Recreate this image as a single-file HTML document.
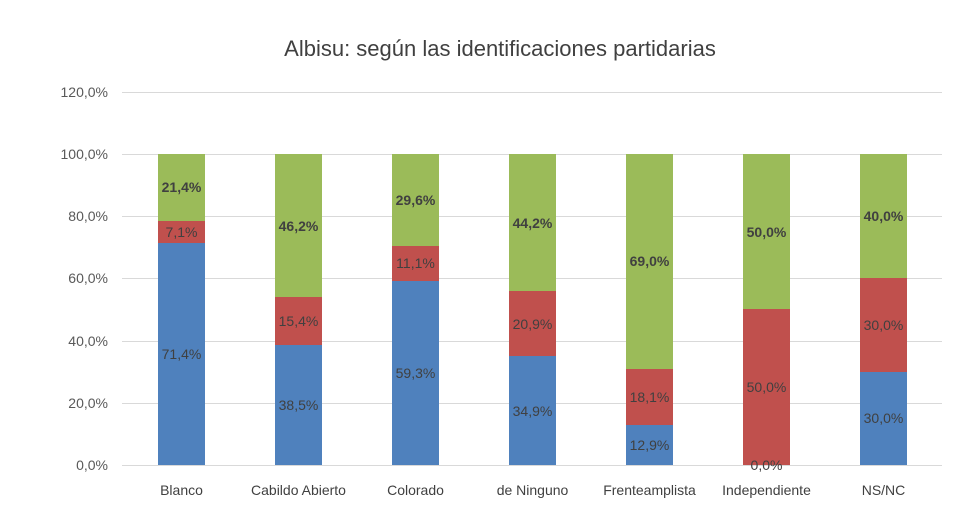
<!DOCTYPE html>
<html><head><meta charset="utf-8"><style>
body{margin:0;background:#fff}
svg{display:block;font-family:"Liberation Sans",sans-serif}
</style></head><body>
<svg width="980" height="520" viewBox="0 0 980 520">
<rect width="980" height="520" fill="#fff"/>
<text x="500" y="56" text-anchor="middle" font-size="22" fill="#404040">Albisu: según las identificaciones partidarias</text>
<g stroke="#d9d9d9" stroke-width="1">
<line x1="122" x2="942" y1="92.5" y2="92.5"/>
<line x1="122" x2="942" y1="154.5" y2="154.5"/>
<line x1="122" x2="942" y1="216.5" y2="216.5"/>
<line x1="122" x2="942" y1="278.5" y2="278.5"/>
<line x1="122" x2="942" y1="341.5" y2="341.5"/>
<line x1="122" x2="942" y1="403.5" y2="403.5"/>
<line x1="122" x2="942" y1="465.5" y2="465.5"/>
</g>
<g font-size="14" fill="#595959" text-anchor="end">
<text x="108" y="97">120,0%</text>
<text x="108" y="159">100,0%</text>
<text x="108" y="221">80,0%</text>
<text x="108" y="283">60,0%</text>
<text x="108" y="346">40,0%</text>
<text x="108" y="408">20,0%</text>
<text x="108" y="470">0,0%</text>
</g>
<g>
<rect x="158" y="243" width="47" height="222" fill="#4F81BD"/>
<rect x="158" y="221" width="47" height="22" fill="#C0504D"/>
<rect x="158" y="154" width="47" height="67" fill="#9BBB59"/>

<rect x="275" y="345" width="47" height="120" fill="#4F81BD"/>
<rect x="275" y="297" width="47" height="48" fill="#C0504D"/>
<rect x="275" y="154" width="47" height="143" fill="#9BBB59"/>

<rect x="392" y="281" width="47" height="184" fill="#4F81BD"/>
<rect x="392" y="246" width="47" height="35" fill="#C0504D"/>
<rect x="392" y="154" width="47" height="92" fill="#9BBB59"/>

<rect x="509" y="356" width="47" height="109" fill="#4F81BD"/>
<rect x="509" y="291" width="47" height="65" fill="#C0504D"/>
<rect x="509" y="154" width="47" height="137" fill="#9BBB59"/>

<rect x="626" y="425" width="47" height="40" fill="#4F81BD"/>
<rect x="626" y="369" width="47" height="56" fill="#C0504D"/>
<rect x="626" y="154" width="47" height="215" fill="#9BBB59"/>

<rect x="743" y="309" width="47" height="156" fill="#C0504D"/>
<rect x="743" y="154" width="47" height="155" fill="#9BBB59"/>

<rect x="860" y="372" width="47" height="93" fill="#4F81BD"/>
<rect x="860" y="278" width="47" height="94" fill="#C0504D"/>
<rect x="860" y="154" width="47" height="124" fill="#9BBB59"/>
</g>
<g font-size="14" fill="#404040" text-anchor="middle">
<text x="181.5" y="359">71,4%</text><text x="181.5" y="237">7,1%</text><text x="181.5" y="192" font-weight="bold">21,4%</text>
<text x="298.5" y="410">38,5%</text><text x="298.5" y="326">15,4%</text><text x="298.5" y="231" font-weight="bold">46,2%</text>
<text x="415.5" y="378">59,3%</text><text x="415.5" y="268">11,1%</text><text x="415.5" y="205" font-weight="bold">29,6%</text>
<text x="532.5" y="416">34,9%</text><text x="532.5" y="329">20,9%</text><text x="532.5" y="228" font-weight="bold">44,2%</text>
<text x="649.5" y="450">12,9%</text><text x="649.5" y="402">18,1%</text><text x="649.5" y="266" font-weight="bold">69,0%</text>
<text x="766.5" y="470">0,0%</text><text x="766.5" y="392">50,0%</text><text x="766.5" y="237" font-weight="bold">50,0%</text>
<text x="883.5" y="423">30,0%</text><text x="883.5" y="330">30,0%</text><text x="883.5" y="221" font-weight="bold">40,0%</text>
</g>
<g font-size="14" fill="#404040" text-anchor="middle">
<text x="181.5" y="495">Blanco</text>
<text x="298.5" y="495">Cabildo Abierto</text>
<text x="415.5" y="495">Colorado</text>
<text x="532.5" y="495">de Ninguno</text>
<text x="649.5" y="495">Frenteamplista</text>
<text x="766.5" y="495">Independiente</text>
<text x="883.5" y="495">NS/NC</text>
</g>
</svg>
</body></html>
